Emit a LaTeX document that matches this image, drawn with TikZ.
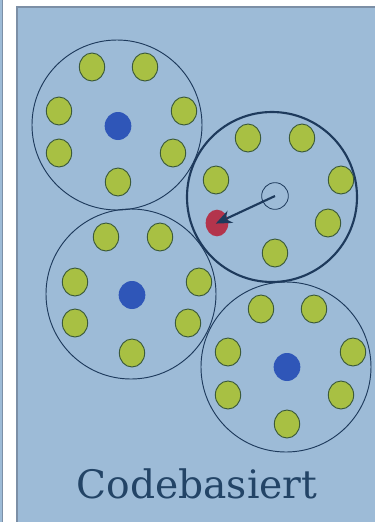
\documentclass[tikz,border=0pt]{standalone}
\usepackage{tikz}
\usepackage{fontspec}
\usetikzlibrary{arrows.meta,shapes.geometric}
\newfontfamily\titlefont{DejaVu Serif}
\definecolor{CBPanel}{HTML}{9DBBD7}
\definecolor{CBFrame}{HTML}{7C8FA6}
\definecolor{CBNavy}{HTML}{1E3A5C}
\definecolor{CBGreen}{HTML}{A8C043}
\definecolor{CBGreenEdge}{HTML}{3C5A3A}
\definecolor{CBBlue}{HTML}{2F56B8}
\definecolor{CBRed}{HTML}{B3344C}
\definecolor{CBText}{HTML}{234466}

\begin{document}
\begin{tikzpicture}[x=0.75pt,y=-0.75pt,
  cluster/.style={circle,draw=CBNavy,line width=0.7pt,minimum size=127.5pt,inner sep=0pt},
  active/.style={line width=1.6pt},
  member/.style={ellipse,draw=CBGreenEdge,fill=CBGreen,line width=0.7pt,minimum width=19pt,minimum height=21pt,inner sep=0pt},
  core/.style={ellipse,fill=CBBlue,minimum width=20pt,minimum height=21pt,inner sep=0pt},
  moved/.style={ellipse,fill=CBRed,minimum width=17pt,minimum height=20pt,inner sep=0pt},
  hole/.style={circle,draw=CBNavy,line width=0.6pt,minimum size=20pt,inner sep=0pt},
  arr/.style={-{Stealth[length=12pt,width=10pt]},line width=1.6pt,CBNavy,shorten >=-1pt},
]
% page and panel
\useasboundingbox (0,0) rectangle (375,522);
\fill[white] (0,0) rectangle (375,522);
\fill[CBPanel] (0,0) rectangle (2.5,522);
\draw[CBFrame,line width=0.6pt] (2.5,0) -- (2.5,522);
\draw[CBFrame,fill=CBPanel,line width=1pt] (17,540) -- (17,7) -- (390,7) -- (390,540);

% clusters
\node[cluster] (c1) at (117,125) {};
\node[cluster,active] (c2) at (272,197) {};
\node[cluster] (c3) at (131,294) {};
\node[cluster] (c4) at (286,367) {};

% cluster 1
\node[core] (b1) at (118,126) {};
\foreach \x/\y [count=\i] in {92/67,145/67,59/111,184/111,59/153,173/153,118/182}
  \node[member] (g1-\i) at (\x,\y) {};

% cluster 2
\foreach \x/\y [count=\i] in {248/138,302/138,216/180,341/180,328/223,275/253}
  \node[member] (g2-\i) at (\x,\y) {};
\node[hole] (free) at (275,196) {};
\node[moved] (red) at (217,223) {};
\draw[arr] (free.center) -- (red.center);

% cluster 3
\node[core] (b3) at (132,295) {};
\foreach \x/\y [count=\i] in {106/237,160/237,75/282,199/282,75/323,188/323,132/353}
  \node[member] (g3-\i) at (\x,\y) {};

% cluster 4
\node[core] (b4) at (287,367) {};
\foreach \x/\y [count=\i] in {261/309,314/309,228/352,353/352,228/395,341/395,287/424}
  \node[member] (g4-\i) at (\x,\y) {};

\node[anchor=base,text=CBText,font=\titlefont\fontsize{29.4}{35}\selectfont,inner sep=0pt] (title) at (197,498) {Codebasiert};
\end{tikzpicture}
\end{document}
